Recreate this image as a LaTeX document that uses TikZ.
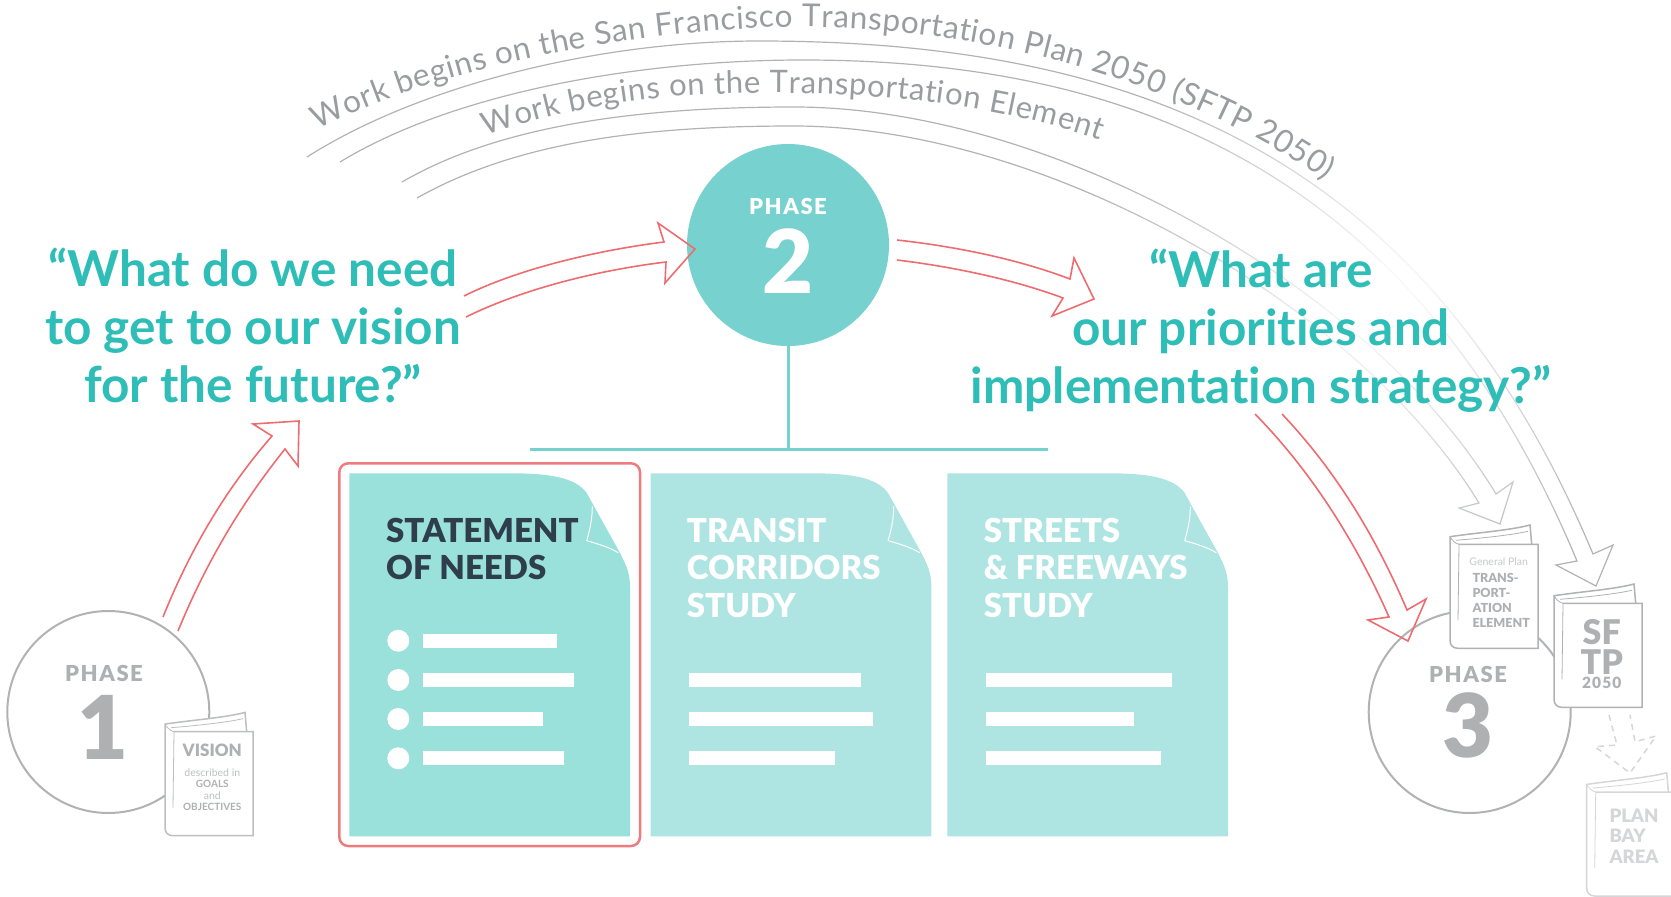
\documentclass[tikz,border=0pt]{standalone}
\usepackage{fontspec}
\setmainfont[Ligatures=NoCommon]{Lato}
\newfontfamily\heavyfont[Ligatures=NoCommon]{Lato Black}
\newfontfamily\spacedfont[LetterSpace=7]{Lato Black}
\usetikzlibrary{decorations.text}
\usetikzlibrary{fadings}

\definecolor{tealdark}{HTML}{2FBDB8}
\definecolor{tealmid}{HTML}{77D1CF}
\definecolor{sheetdark}{HTML}{9AE0DB}
\definecolor{sheetlight}{HTML}{AEE5E2}
\definecolor{redline}{HTML}{EE6C70}
\definecolor{greyline}{HTML}{B0B2B4}
\definecolor{greytext}{HTML}{AEB0B2}
\definecolor{paletext}{HTML}{D5D6D7}
\definecolor{arctext}{HTML}{9A9DA0}
\definecolor{inktext}{HTML}{2F3E4C}

\newcommand{\fsz}[1]{\fontsize{#1}{#1}\selectfont}
\tikzfading[name=fadeblob, inner color=transparent!0, outer color=transparent!100]

\tikzset{
  redarrow/.style={draw=redline, line width=1.6pt, miter limit=20},
  greyarrow/.style={draw=greyline, line width=1.2pt, miter limit=20},
  phasering/.style={circle, draw=greyline, line width=2pt, fill=white, minimum size=202pt, inner sep=0pt},
  phaselabel/.style={inner sep=0pt, text=greytext, font=\spacedfont\fsz{22}},
  bignumber/.style={inner sep=0pt, text=greytext, font=\heavyfont\fsz{88}},
  question/.style={inner sep=0pt, align=center, text=tealdark, font=\bfseries\fontsize{49.5}{58}\selectfont},
  sheethead/.style={inner sep=0pt, anchor=west, align=left, text=white, font=\heavyfont\fontsize{33}{37.5}\selectfont},
  booktext/.style={inner sep=0pt, text=greytext},
  docsheet/.pic={
    \fill[pic actions] (0,0) -- (160.7,0) .. controls (200,0) and (226,4) .. (237.4,19.7)
      -- (270.7,79.7) .. controls (277,92) and (280.7,100) .. (280.7,113.7) -- (280.7,363) -- (0,363) -- cycle;
    \draw[white, line width=1pt] (243,33) .. controls (243,45) and (241,55) .. (237.4,67.4)
      .. controls (250,71) and (260,74) .. (269,79.4);
  },
  bookpic/.pic={
    \filldraw[fill=white, pic actions, line width=1.5pt] (9,-104) -- (88,-104) -- (88,0) -- (8,0)
      .. controls (3,0) and (0,-3) .. (0,-8) -- (0,-111.6)
      .. controls (30,-116) and (60,-118) .. (80,-123.3) -- (81.7,-104);
    \draw[pic actions, line width=0.8pt] (0,-111.6) .. controls (2,-108) and (5,-105) .. (9,-104) -- (8,-28);
    \draw[pic actions, line width=0.8pt] (6,-108) .. controls (30,-110) and (60,-113) .. (78,-117);
  },
}

\begin{document}
\begin{tikzpicture}[x=1pt, y=-1pt]
    \useasboundingbox (0,0) rectangle (1671,897);

    % long arcs up top
    \draw[greyarrow] (307,157) .. controls (420,85) and (600,41) .. (759,41)
      .. controls (1150,41) and (1430,165) .. (1593,554)
      -- (1613,545) -- (1596,586) -- (1556,565) -- (1577,561)
      .. controls (1420,185) and (1150,60) .. (803,60)
      .. controls (640,60) and (455,92) .. (340,162);
    \draw[greyarrow] (402,182) .. controls (500,125) and (640,107) .. (794,107)
      .. controls (1050,107) and (1370,285) .. (1496,494)
      -- (1513,482) -- (1500,524) -- (1459,508) -- (1479,503)
      .. controls (1355,300) and (1040,126) .. (794,126)
      .. controls (650,126) and (520,140) .. (417,198);
    \fill[white, path fading=fadeblob] (1385,300) circle (320);

    \path[decorate, decoration={text along path, text color=arctext, text align=fit to path,
      text={|\fsz{31.5}|Work begins on the San Francisco Transportation Plan 2050 (SFTP 2050)}}]
      (318,130) .. controls (430,70) and (640,27) .. (801,27)
      .. controls (980,27) and (1180,80) .. (1325,180);
    \path[decorate, decoration={text along path, text color=arctext, text align=fit to path,
      text={|\fsz{31}|Work begins on the Transportation Element}}]
      (486,136) .. controls (590,100) and (680,93) .. (774,93)
      .. controls (880,93) and (1000,105) .. (1100,140);

    % phase 1
    \node[phasering] (phaseone) at (108.3,712) {};
    \node[phaselabel] (phaseonelabel) at (104,673) {PHASE};
    \node[bignumber] (phaseonenum) at (103,727) {1};
    \pic[draw=greyline!85] at (165,835.7) {bookpic};
    \node[booktext, font=\heavyfont\fsz{17}] (visionhead) at (212.3,750.7) {VISION};
    \node[booktext, text=greytext!80, font=\fsz{10.5}] (visiona) at (212.3,772.7) {described in};
    \node[booktext, font=\bfseries\fsz{10}] (visionb) at (212.3,784) {GOALS};
    \node[booktext, text=greytext!80, font=\fsz{10.5}] (visionc) at (212.3,796) {and};
    \node[booktext, font=\bfseries\fsz{10}] (visiond) at (212.3,807.3) {OBJECTIVES};

    % phase 2
    \node[circle, fill=tealmid, minimum size=202pt, inner sep=0pt] (phasetwo) at (788,245) {};
    \node[phaselabel, text=white] (phasetwolabel) at (788,206) {PHASE};
    \node[bignumber, text=white] (phasetwonum) at (788,261) {2};
    \coordinate (barleft) at (530,449);
    \coordinate (barright) at (1048,449);
    \coordinate (barmid) at (788,449);
    \draw[tealmid, line width=3pt] (barleft) -- (barright);
    \draw[tealmid, line width=3pt] (phasetwo.south) -- (barmid);

    % phase 3
    \node[phasering] (phasethree) at (1469.7,712) {};
    \node[phaselabel] (phasethreelabel) at (1468,674) {PHASE};
    \node[bignumber] (phasethreenum) at (1468,725) {3};
    \pic[draw=greyline] at (1450,648.3) {bookpic};
    \node[booktext, text=greytext!70, font=\fsz{10.5}] (tegeneral) at (1498.7,561.7) {General Plan};
    \foreach \yy/\ww/\nn in {578.3/TRANS-/tea, 593.3/PORT-/teb, 608.3/ATION/tec, 622.7/ELEMENT/ted}
      \node[booktext, anchor=west, font=\heavyfont\fsz{12.5}] (\nn) at (1472.3,\yy) {\ww};
    \pic[draw=greyline] at (1554,707.3) {bookpic};
    \node[booktext, font=\heavyfont\fsz{34}] (sftpa) at (1601.7,632) {SF};
    \node[booktext, font=\heavyfont\fsz{34}] (sftpb) at (1601.7,661.7) {TP};
    \node[booktext, font=\spacedfont\fsz{15.5}] (sftpc) at (1601.7,683) {2050};
    \pic[draw=paletext] at (1586.7,896) {bookpic};
    \foreach \yy/\ww/\nn in {815.7/PLAN/pbaa, 836/BAY/pbab, 856.7/AREA/pbac}
      \node[booktext, anchor=west, text=paletext, font=\heavyfont\fsz{18.5}] (\nn) at (1609.3,\yy) {\ww};
    \draw[paletext, line width=1.5pt, dash pattern=on 6pt off 5pt] (1609,715) -- (1617,745) -- (1595,746.7) -- (1630,773)
      -- (1656,736) -- (1635,741.7) -- (1630,715);

    % questions
    \node[question] (askneed) at (253,325) {“What do we need\\to get to our vision\\for the future?”};
    \node[question] (askpriority) at (1261,331) {“What are\\our priorities and\\implementation strategy?”};

    % hollow red arrows
    \coordinate (tipone) at (299,421);
    \coordinate (tiptwo) at (695,249);
    \coordinate (tipthree) at (1094,299);
    \coordinate (tipfour) at (1408,641);
    \draw[redarrow] (163,617) .. controls (190,550) and (225,490) .. (272,436) -- (253,424) -- (tipone)
      -- (298,466) -- (285,449) .. controls (240,505) and (205,565) .. (178,631);
    \draw[redarrow] (464,296) .. controls (520,268) and (600,250) .. (664,242) -- (658,223) -- (tiptwo)
      -- (665,283) -- (666,262) .. controls (600,270) and (525,288) .. (466,317);
    \draw[redarrow] (897,240) .. controls (960,247) and (1020,260) .. (1070,279) -- (1074,258) -- (tipthree)
      -- (1052,316) -- (1063,298) .. controls (1015,280) and (955,267) .. (897,260);
    \draw[redarrow] (1255,414) .. controls (1310,470) and (1355,540) .. (1389,617) -- (1368,620) -- (tipfour)
      -- (1426,599) -- (1407,610) .. controls (1375,535) and (1335,470) .. (1282,414);

    % the three sheets
    \draw[draw=redline!90, line width=2.5pt, rounded corners=9pt] (339.3,463.3) rectangle (640,846);
    \pic[fill=sheetdark] at (349.3,473.3) {docsheet};
    \pic[fill=sheetlight] at (650.7,473.3) {docsheet};
    \pic[fill=sheetlight] at (947.3,473.3) {docsheet};
    \node[sheethead, text=inktext] (needs) at (386,549) {STATEMENT\\OF NEEDS};
    \node[sheethead] (transit) at (686.7,567.5) {TRANSIT\\CORRIDORS\\STUDY};
    \node[sheethead] (streets) at (983.7,567.5) {STREETS\\\& FREEWAYS\\STUDY};
    \foreach \yy/\xx in {640.7/557.3, 680/574, 719/543.3, 758.3/564.3} {
      \fill[white] (398.3,\yy) circle (11);
      \fill[white] (423,\yy-7) rectangle (\xx,\yy+7);
    }
    \foreach \yy/\xx in {680/861.2, 719.3/873, 758.3/835}
      \fill[white] (688.6,\yy-7) rectangle (\xx,\yy+7);
    \foreach \yy/\xx in {680/1172, 719.3/1134.4, 758.3/1160.9}
      \fill[white] (985.6,\yy-7) rectangle (\xx,\yy+7);
\end{tikzpicture}
\end{document}
